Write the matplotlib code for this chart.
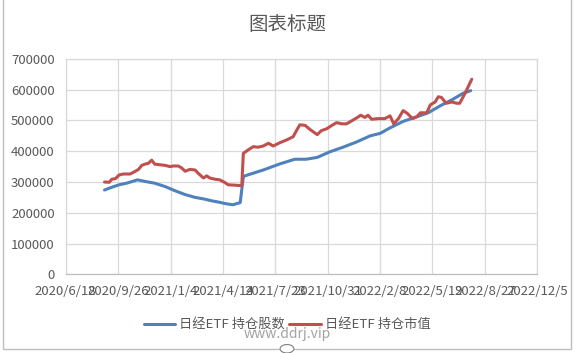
import pandas as pd
import matplotlib
matplotlib.use("Agg")
import matplotlib.pyplot as plt
from matplotlib.patches import Rectangle, Circle

plt.rcParams['font.family'] = ['Noto Sans CJK SC', 'DejaVu Sans']

# ---- data ----
shares_dates = ['2020-08-31', '2020-09-14', '2020-09-28', '2020-10-12', '2020-11-02',
                '2020-11-16', '2020-12-05', '2020-12-25', '2021-01-12', '2021-02-01',
                '2021-02-20', '2021-03-11', '2021-03-23', '2021-04-05', '2021-04-21',
                '2021-05-03', '2021-05-17', '2021-05-23', '2021-05-26', '2021-06-30',
                '2021-08-01', '2021-08-29', '2021-09-20', '2021-10-11', '2021-11-04',
                '2021-11-29', '2021-12-25', '2022-01-20', '2022-02-08', '2022-02-27',
                '2022-03-24', '2022-04-19', '2022-05-11', '2022-06-02', '2022-06-27',
                '2022-07-16', '2022-07-31']
shares = [274000, 283000, 291000, 296000, 307000,
          302000, 296000, 285000, 272000, 259000,
          250000, 244000, 239000, 235000, 229000,
          226000, 233000, 317000, 320000, 339000,
          359000, 374000, 374000, 380000, 398000,
          413000, 430000, 450000, 458000, 476000,
          497000, 512000, 525000, 547000, 569000,
          588000, 597000]

value_dates = ['2020-08-31', '2020-09-09', '2020-09-14', '2020-09-21', '2020-09-28',
               '2020-10-06', '2020-10-19', '2020-10-28', '2020-11-04', '2020-11-10',
               '2020-11-16', '2020-11-23', '2020-11-29', '2020-12-05', '2020-12-15',
               '2020-12-25', '2021-01-03', '2021-01-09', '2021-01-19', '2021-01-25',
               '2021-02-01', '2021-02-10', '2021-02-20', '2021-02-26', '2021-03-08',
               '2021-03-14', '2021-03-20', '2021-03-30', '2021-04-08', '2021-04-18',
               '2021-04-24', '2021-05-13', '2021-05-20', '2021-05-23', '2021-06-01',
               '2021-06-11', '2021-06-20', '2021-06-30', '2021-07-10', '2021-07-19',
               '2021-08-01', '2021-08-14', '2021-08-26', '2021-09-02', '2021-09-08',
               '2021-09-18', '2021-09-27', '2021-10-11', '2021-10-19', '2021-10-29',
               '2021-11-08', '2021-11-17', '2021-11-27', '2021-12-06', '2021-12-16',
               '2021-12-25', '2022-01-02', '2022-01-10', '2022-01-16', '2022-01-23',
               '2022-02-04', '2022-02-17', '2022-02-27', '2022-03-06', '2022-03-15',
               '2022-03-24', '2022-04-01', '2022-04-11', '2022-04-19', '2022-04-26',
               '2022-05-08', '2022-05-15', '2022-05-24', '2022-05-30', '2022-06-05',
               '2022-06-14', '2022-06-25', '2022-07-04', '2022-07-10', '2022-07-20',
               '2022-08-02']
market_value = [300000, 299000, 309000, 311000, 323000,
                326000, 326000, 334000, 341000, 354000,
                358000, 361000, 371000, 358000, 356000,
                354000, 350000, 352000, 352000, 346000,
                335000, 341000, 339000, 328000, 313000,
                320000, 313000, 309000, 307000, 298000,
                291000, 289000, 288000, 393000, 404000,
                415000, 413000, 417000, 426000, 417000,
                428000, 437000, 447000, 469000, 486000,
                484000, 471000, 454000, 467000, 473000,
                484000, 493000, 489000, 489000, 499000,
                508000, 517000, 510000, 517000, 504000,
                506000, 506000, 515000, 489000, 506000,
                532000, 523000, 506000, 512000, 525000,
                525000, 551000, 560000, 577000, 575000,
                556000, 560000, 556000, 556000, 588000,
                634000]

tick_dates = ['2020-06-18', '2020-09-26', '2021-01-04', '2021-04-14', '2021-07-23',
              '2021-10-31', '2022-02-08', '2022-05-19', '2022-08-27', '2022-12-05']

series_names = ['日经ETF 持仓股数', '日经ETF 持仓市值']

text_grey = '#595959'
grid_grey = '#d9d9d9'

fig = plt.figure(figsize=(5.74, 3.53), dpi=100)
ax = fig.add_axes([0.1145, 0.223, 0.8215, 0.610])

ax.plot(pd.to_datetime(shares_dates), shares, color='#4f81bd', lw=2.2,
        label=series_names[0], solid_capstyle='round')
ax.plot(pd.to_datetime(value_dates), market_value, color='#c0504d', lw=2.2,
        label=series_names[1], solid_capstyle='round')

ticks = pd.to_datetime(tick_dates)
ax.set_xlim(ticks[0], ticks[-1])
ax.set_xticks(ticks)
ax.set_xticklabels([f'{d.year}/{d.month}/{d.day}' for d in ticks])
ax.set_ylim(0, 700000)
ax.set_yticks(range(0, 700001, 100000))

ax.grid(True, color=grid_grey, lw=0.9)
ax.set_axisbelow(True)
for s in ax.spines.values():
    s.set_color(grid_grey)
    s.set_linewidth(0.9)
ax.spines['bottom'].set_color('#bfbfbf')
ax.tick_params(length=0, colors=text_grey, labelsize=9.5)
ax.tick_params(axis='x', pad=8)
ax.tick_params(axis='y', pad=8)

fig.text(0.5, 0.932, '图表标题', ha='center', va='center', fontsize=14, color=text_grey)

fig.legend(loc='center', bbox_to_anchor=(0.5, 0.08), ncol=2, frameon=False,
           fontsize=9.5, labelcolor=text_grey, handlelength=2.4, columnspacing=0.3,
           handletextpad=0.3)

fig.text(0.5, 0.055, 'www.ddrj.vip', ha='center', va='center', fontsize=10,
         color='#8c8c8c', alpha=0.8)

# outer chart border and selection handle
fig.patches.append(Rectangle((0.005, 0.012), 0.99, 1.2, transform=fig.transFigure,
                             fill=False, edgecolor='#bfbfbf', lw=1))
fig.patches.append(Circle((0.5, 0.012), 0.012, transform=fig.transFigure,
                          facecolor='white', edgecolor='#7f7f7f', lw=0.8))

fig.savefig('out.png', dpi=100)
